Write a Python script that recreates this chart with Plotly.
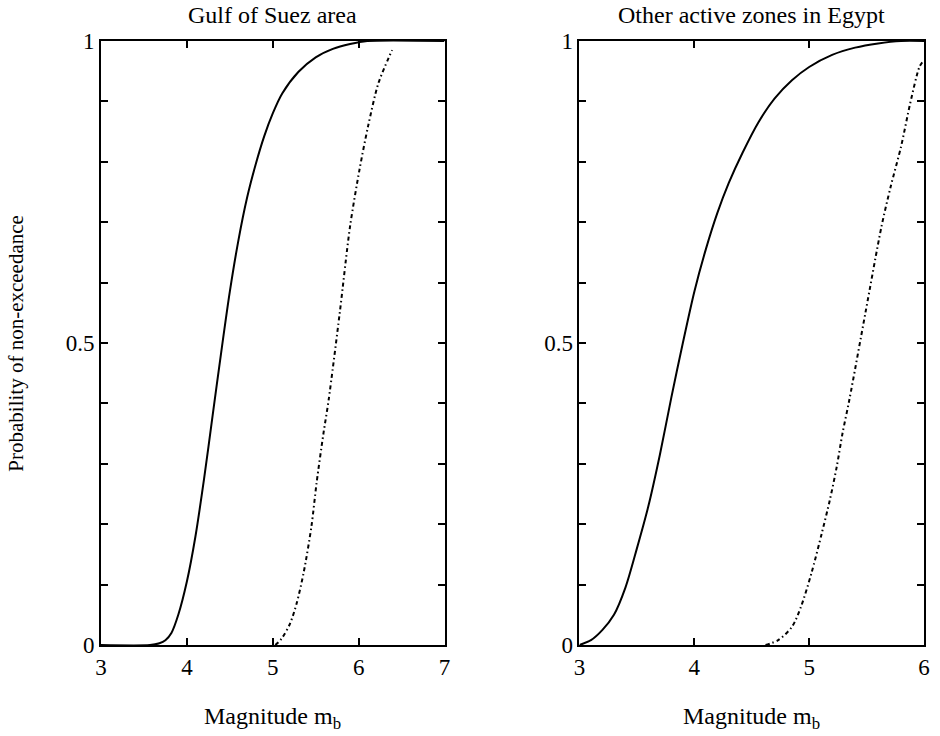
import plotly.graph_objects as go

# Gulf of Suez area
suez_solid_x = [3.0, 3.57, 3.68, 3.75, 3.82, 3.9, 4.0, 4.1, 4.2, 4.3, 4.4, 4.5, 4.6, 4.7, 4.8, 4.9, 5.0, 5.11, 5.3, 5.5, 5.7, 5.9, 6.1, 7.0]
suez_solid_y = [0.0, 0.0, 0.003, 0.008, 0.02, 0.05, 0.105, 0.18, 0.275, 0.38, 0.485, 0.585, 0.67, 0.74, 0.795, 0.842, 0.88, 0.913, 0.949, 0.973, 0.987, 0.995, 1.0, 1.0]
suez_dash_x = [5.03, 5.1, 5.2, 5.28, 5.36, 5.45, 5.51, 5.59, 5.65, 5.78, 5.90, 6.01, 6.11, 6.23, 6.39]
suez_dash_y = [0.0, 0.01, 0.035, 0.07, 0.12, 0.196, 0.268, 0.35, 0.405, 0.55, 0.693, 0.787, 0.859, 0.93, 0.985]

# Other active zones in Egypt
other_solid_x = [3.0, 3.1, 3.2, 3.3, 3.4, 3.5, 3.6, 3.7, 3.8, 3.9, 4.0, 4.1, 4.2, 4.3, 4.42, 4.56, 4.70, 4.85, 5.0, 5.2, 5.4, 5.6, 5.8, 6.0]
other_solid_y = [0.0, 0.008, 0.025, 0.05, 0.095, 0.16, 0.23, 0.315, 0.41, 0.5, 0.585, 0.655, 0.715, 0.765, 0.815, 0.866, 0.905, 0.935, 0.957, 0.977, 0.989, 0.996, 1.0, 1.0]
other_dash_x = [4.62, 4.73, 4.85, 4.93, 5.02, 5.11, 5.18, 5.24, 5.29, 5.35, 5.49, 5.63, 5.71, 5.80, 5.88, 5.96, 5.99]
other_dash_y = [0.0, 0.008, 0.03, 0.064, 0.119, 0.185, 0.24, 0.295, 0.35, 0.406, 0.55, 0.693, 0.759, 0.825, 0.897, 0.957, 0.966]

titles = ["Gulf of Suez area", "Other active zones in Egypt"]
y_ticks = [0, 0.1, 0.2, 0.3, 0.4, 0.5, 0.6, 0.7, 0.8, 0.9, 1.0]
y_ticktext = ["0", "", "", "", "", "0.5", "", "", "", "", "1"]
x_ticks_left = [3, 4, 5, 6, 7]
x_ticks_right = [3, 4, 5, 6]

FONT = "Liberation Serif"
fig = go.Figure()

solid = dict(color="black", width=2)
dashed = dict(color="black", width=2, dash="4px,3px,1.5px,3px")

fig.add_trace(go.Scatter(x=suez_solid_x, y=suez_solid_y, mode="lines", line=dict(shape="spline", smoothing=0.8, **solid), xaxis="x", yaxis="y", showlegend=False))
fig.add_trace(go.Scatter(x=suez_dash_x, y=suez_dash_y, mode="lines", line=dict(shape="spline", smoothing=0.8, **dashed), xaxis="x", yaxis="y", showlegend=False))
fig.add_trace(go.Scatter(x=other_solid_x, y=other_solid_y, mode="lines", line=dict(shape="spline", smoothing=0.8, **solid), xaxis="x2", yaxis="y2", showlegend=False))
fig.add_trace(go.Scatter(x=other_dash_x, y=other_dash_y, mode="lines", line=dict(shape="spline", smoothing=0.8, **dashed), xaxis="x2", yaxis="y2", showlegend=False))

axis_common = dict(showgrid=False, zeroline=False, showline=True, linecolor="black", linewidth=2,
                   mirror="allticks", ticks="inside", ticklen=7, tickwidth=1.5, tickcolor="black",
                   tickfont=dict(family=FONT, size=23, color="black"))

fig.update_layout(
    width=940, height=736,
    margin=dict(l=101, r=10, t=41, b=91),
    paper_bgcolor="white", plot_bgcolor="white",
    font=dict(family=FONT, color="black"),
    xaxis=dict(domain=[0, 0.4174], range=[3, 7], tickvals=x_ticks_left, anchor="y", **axis_common),
    yaxis=dict(domain=[0, 1], range=[0, 1], tickvals=y_ticks, ticktext=y_ticktext, anchor="x", **axis_common),
    xaxis2=dict(domain=[0.5814, 1], range=[3, 6], tickvals=x_ticks_right, anchor="y2", **axis_common),
    yaxis2=dict(domain=[0, 1], range=[0, 1], tickvals=y_ticks, ticktext=y_ticktext, anchor="x2", **axis_common),
)

annotations = []
for title, xc in zip(titles, [0.2087, 0.7907]):
    annotations.append(dict(text=title, xref="paper", yref="paper", x=xc, y=1.043, showarrow=False,
                            font=dict(family=FONT, size=24, color="black"), xanchor="center", yanchor="middle"))
    annotations.append(dict(text="Magnitude m<sub>b</sub>", xref="paper", yref="paper", x=xc, y=-0.121,
                            showarrow=False, font=dict(family=FONT, size=24, color="black"),
                            xanchor="center", yanchor="middle"))
annotations.append(dict(text="Probability of non-exceedance", xref="paper", yref="paper", x=-0.1037, y=0.5,
                        textangle=-90, showarrow=False, font=dict(family=FONT, size=21, color="black"),
                        xanchor="center", yanchor="middle"))
fig.update_layout(annotations=annotations)

fig.write_html("out.html", config={"displayModeBar": False},
               post_script="document.body.style.margin='0px';document.body.style.overflow='hidden';")
